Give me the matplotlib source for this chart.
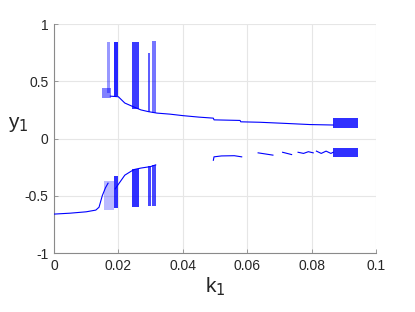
import numpy as np
import matplotlib
matplotlib.use("Agg")
import matplotlib.pyplot as plt

nan = np.nan

# Stable lower branch (left)
lower_k = [0.0, 0.005, 0.010, 0.0130, 0.0140, 0.0150, 0.0160, 0.0168]
lower_y = [-0.660, -0.652, -0.640, -0.625, -0.600, -0.500, -0.430, -0.390]

# Lower branch after first chaotic windows
lower2_k = [0.0190, 0.0200, 0.0220, 0.0240, 0.0250, 0.0270, 0.0300, 0.0316]
lower2_y = [-0.440, -0.400, -0.320, -0.285, -0.270, -0.258, -0.245, -0.230]

# Upper branch
upper_k = [0.0175, 0.0200, 0.0220, 0.0246, 0.0270, 0.0293, 0.0320, 0.0360, 0.0400,
           0.0450, 0.0495, 0.0497, 0.0578, 0.0580, 0.0640, 0.0712, 0.0795, 0.0867]
upper_y = [0.370, 0.365, 0.310, 0.278, 0.250, 0.235, 0.222, 0.213, 0.200,
           0.187, 0.178, 0.163, 0.158, 0.146, 0.142, 0.133, 0.122, 0.118]

# Lower right broken branch (NaN = gap)
lr_k = [0.0495, 0.0497, 0.0520, 0.0560, 0.0583, nan, 0.0634, 0.0680, nan,
        0.0710, 0.0738, nan, 0.0758, 0.0775, 0.0790, 0.0805, nan,
        0.0815, 0.0830, 0.0845, 0.0860, 0.0867]
lr_y = [-0.190, -0.160, -0.152, -0.150, -0.160, nan, -0.125, -0.145, nan,
        -0.120, -0.140, nan, -0.120, -0.130, -0.115, -0.125, nan,
        -0.110, -0.130, -0.110, -0.130, -0.120]

# Chaotic bands: k range, y range, point density
band_k0 = [0.0165, 0.0186, 0.0243, 0.0291, 0.0306, 0.0150, 0.0155, 0.0187, 0.0243, 0.0291, 0.0305, 0.0867, 0.0867]
band_k1 = [0.0174, 0.0198, 0.0264, 0.0298, 0.0316, 0.0178, 0.0185, 0.0198, 0.0265, 0.0300, 0.0317, 0.0944, 0.0944]
band_y0 = [0.400, 0.370, 0.260, 0.230, 0.220, 0.350, -0.620, -0.610, -0.600, -0.590, -0.590, 0.090, -0.165]
band_y1 = [0.845, 0.845, 0.845, 0.750, 0.850, 0.440, -0.370, -0.330, -0.270, -0.240, -0.230, 0.175, -0.085]
band_density = [0.45, 0.95, 0.85, 0.70, 0.60, 0.55, 0.30, 0.90, 0.90, 0.80, 0.80, 0.90, 0.90]

x_ticks = [0, 0.02, 0.04, 0.06, 0.08, 0.1]
x_ticklabels = ["0", "0.02", "0.04", "0.06", "0.08", "0.1"]
y_ticks = [-1, -0.5, 0, 0.5, 1]
y_ticklabels = ["-1", "-0.5", "0", "0.5", "1"]

plt.rcParams['font.family'] = ['Liberation Sans', 'DejaVu Sans']

fig = plt.figure(figsize=(4.15, 3.12), dpi=100)
ax = fig.add_axes([0.130, 0.189, 0.776, 0.734])

blue = (0, 0, 1)
for k0, k1, y0, y1, d in zip(band_k0, band_k1, band_y0, band_y1, band_density):
    ax.bar(k0, y1 - y0, width=k1 - k0, bottom=y0, align='edge',
           color=blue, alpha=d * 0.9, linewidth=0, zorder=3)

ax.plot(lower_k, lower_y, color=blue, lw=0.8, zorder=4)
ax.plot(lower2_k, lower2_y, color=blue, lw=0.8, zorder=4)
ax.plot(upper_k, upper_y, color=blue, lw=0.8, zorder=4)
ax.plot(lr_k, lr_y, color=blue, lw=0.8, zorder=4)

ax.set_xlim(0, 0.1)
ax.set_ylim(-1, 1)
ax.set_xticks(x_ticks)
ax.set_xticklabels(x_ticklabels)
ax.set_yticks(y_ticks)
ax.set_yticklabels(y_ticklabels)
ax.grid(True, color='#e6e6e6', lw=0.8, zorder=0)
ax.set_axisbelow(True)
for s in ['top', 'right']:
    ax.spines[s].set_visible(False)
for s in ['left', 'bottom']:
    ax.spines[s].set_color('#8a8a8a')
    ax.spines[s].set_linewidth(0.8)
ax.tick_params(direction='in', length=3, width=0.6, color='#8a8a8a',
               labelsize=10, labelcolor='#262626', pad=4)

ax.set_xlabel('k$_1$', fontsize=15, color='#262626', labelpad=2)
ax.set_ylabel('y$_1$', fontsize=15, color='#262626', rotation=0, va='center', ha='center')
ax.yaxis.set_label_coords(-0.112, 0.56)

fig.savefig('out.png', dpi=100)
